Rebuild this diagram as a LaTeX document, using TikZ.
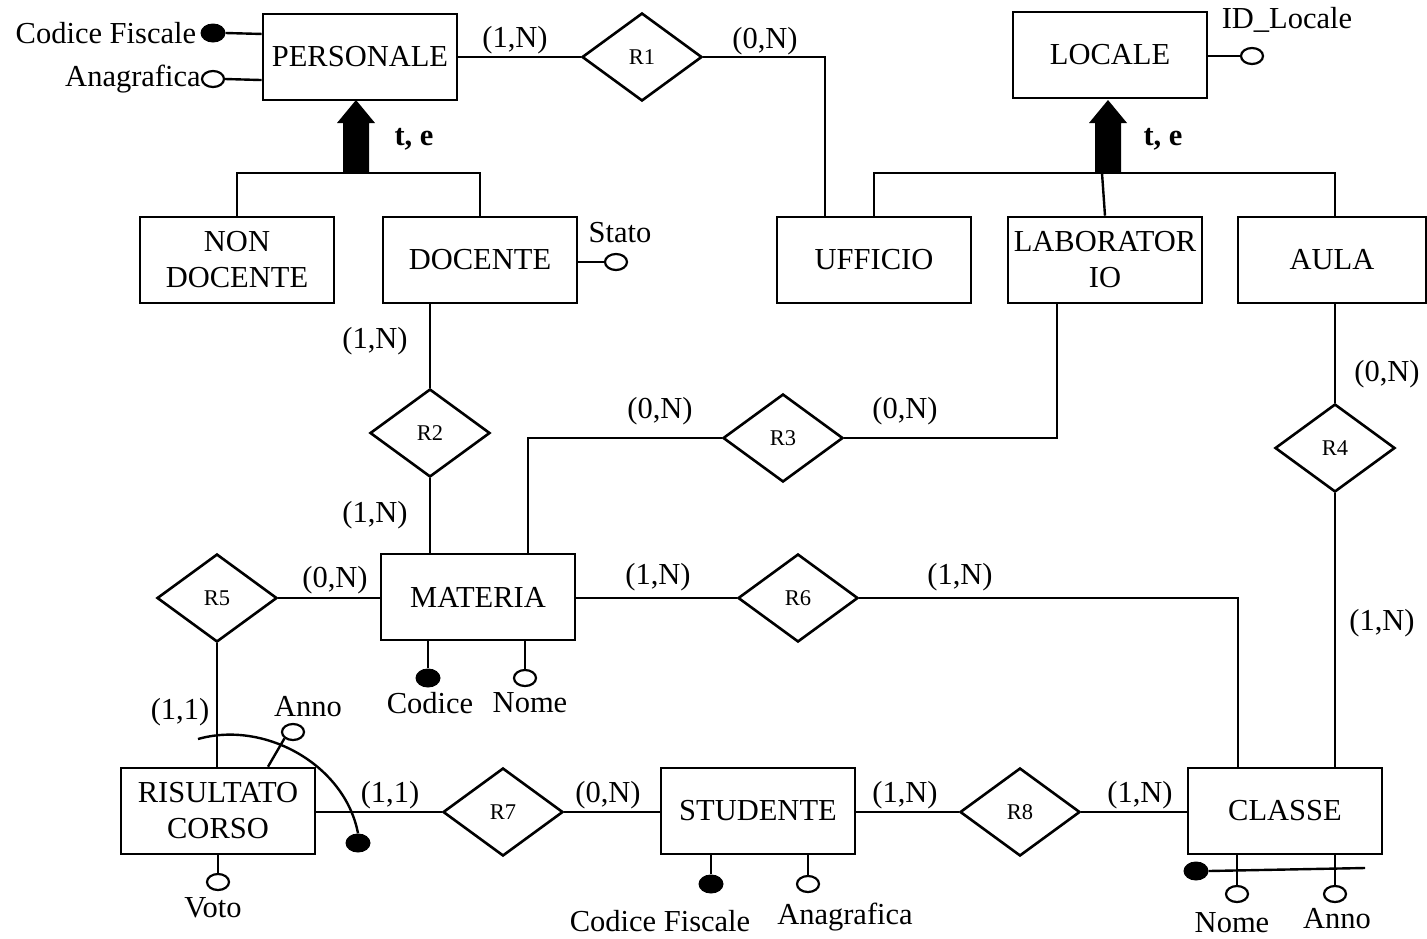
\documentclass[tikz,border=0pt]{standalone}
\usepackage{fontspec}
\setmainfont{Liberation Serif}
\usetikzlibrary{shapes.geometric,calc}
\tikzset{
  every node/.style={font=\fontsize{30.5}{36}\selectfont},
  ent/.style={draw, line width=2.6pt, rectangle, minimum width=194pt, minimum height=86pt, inner sep=0pt, align=center},
  rel/.style={draw, line width=2.6pt, diamond, minimum width=120pt, minimum height=88pt, inner sep=0pt, font=\fontsize{22.5}{24}\selectfont},
  conn/.style={line width=2.4pt},
  attro/.style={ellipse, draw, line width=2.2pt, fill=white, minimum width=22pt, minimum height=16pt, inner sep=0pt},
  attrf/.style={ellipse, fill=black, minimum width=25pt, minimum height=19pt, inner sep=0pt},
  lbl/.style={inner sep=1pt},
  card/.style={inner sep=0pt},
  gen/.style={fill=black},
}
\begin{document}
\begin{tikzpicture}[x=1pt,y=-1pt]
\useasboundingbox (0,0) rectangle (1427,938);
% entities
\node[ent] (pers) at (360,57) {PERSONALE};
\node[ent] (loc) at (1110,55) {LOCALE};
\node[ent] (nond) at (237,260) {NON\\DOCENTE};
\node[ent] (doc) at (480,260) {DOCENTE};
\node[ent] (uff) at (874,260) {UFFICIO};
\node[ent] (lab) at (1105,260) {LABORATOR\\IO};
\node[ent, minimum width=188pt] (aula) at (1332,260) {AULA};
\node[ent] (mat) at (478,597) {MATERIA};
\node[ent] (ris) at (218,811) {RISULTATO\\CORSO};
\node[ent] (stu) at (758,811) {STUDENTE};
\node[ent] (cla) at (1285,811) {CLASSE};
% relationships
\node[rel] (r1) at (642,57) {R1};
\node[rel] (r2) at (430,433) {R2};
\node[rel] (r3) at (783,438) {R3};
\node[rel] (r4) at (1335,448) {R4};
\node[rel] (r5) at (217,598) {R5};
\node[rel] (r6) at (798,598) {R6};
\node[rel] (r7) at (503,812) {R7};
\node[rel] (r8) at (1020,812) {R8};
% coordinates for bends
\coordinate (c1) at (825,57);
\coordinate (c3) at (528,438);
\coordinate (c4) at (1057,438);
\coordinate (c6) at (1238,598);
\coordinate (g1) at (356,173);
\coordinate (g2) at (1108,173);
\coordinate (c7) at (1335,173);
% connectors
\draw[conn] (pers.east |- r1) -- (r1.west);
\draw[conn] (r1.east) -- (c1) -- (c1 |- uff.north);
\draw[conn] (r2.north) -- (r2.north |- doc.south);
\draw[conn] (r2.south) -- (r2.south |- mat.north);
\draw[conn] (r3.west) -- (c3) -- (c3 |- mat.north);
\draw[conn] (r3.east) -- (c4) -- (c4 |- lab.south);
\draw[conn] (r4.north) -- (r4.north |- aula.south);
\draw[conn] (r4.south) -- (r4.south |- cla.north);
\draw[conn] (r5.east) -- (r5.east -| mat.west);
\draw[conn] (r5.south) -- (r5.south |- ris.north);
\draw[conn] (mat.east |- r6) -- (r6.west);
\draw[conn] (r6.east) -- (c6) -- (c6 |- cla.north);
\draw[conn] (ris.east |- r7) -- (r7.west);
\draw[conn] (r7.east) -- (r7.east -| stu.west);
\draw[conn] (stu.east |- r8) -- (r8.west);
\draw[conn] (r8.east) -- (r8.east -| cla.west);
% generalizations
\draw[conn] (nond.north) -- (nond.north |- g1) -- (doc.north |- g1) -- (doc.north);
\fill[gen] (g1) ++(-13,0) -- ++(0,-50) -- ++(-6,0) -- ++(19,-23) -- ++(19,23) -- ++(-6,0) -- ++(0,50) -- cycle;
\node[font=\bfseries\fontsize{30.5}{36}\selectfont] (te1) at (414,139) {t, e};
\draw[conn] (uff.north) -- (uff.north |- g2) -- (c7) -- (c7 |- aula.north);
\draw[conn] (1102,173) -- (lab.north);
\fill[gen] (g2) ++(-13,0) -- ++(0,-50) -- ++(-6,0) -- ++(19,-23) -- ++(19,23) -- ++(-6,0) -- ++(0,50) -- cycle;
\node[font=\bfseries\fontsize{30.5}{36}\selectfont] (te2) at (1163,139) {t, e};
% attributes PERSONALE
\node[attrf] (pcf) at (213,33) {};
\draw[conn] (pcf.east) -- ($(pers.north west)!0.24!(pers.south west)$);
\node[lbl, anchor=east] (tpcf) at ([xshift=-3pt]pcf.west) {Codice Fiscale};
\node[attro] (pan) at (213,79) {};
\draw[conn] (pan.east) -- ($(pers.north west)!0.76!(pers.south west)$);
\node[lbl, anchor=east] (tpan) at ([xshift=1pt]pan.west) {Anagrafica};
% LOCALE
\node[attro] (lid) at (1252,56) {};
\draw[conn] (loc.east |- lid) -- (lid.west);
\node[lbl] (tlid) at (1287,20) {ID\_Locale};
% DOCENTE
\node[attro] (dst) at (616,262) {};
\draw[conn] (doc.east |- dst) -- (dst.west);
\node[lbl] (tdst) at (620,233) {Stato};
% MATERIA
\node[attrf] (mco) at (428,678) {};
\draw[conn] (mco.north) -- (mco.north |- mat.south);
\node[lbl] (tmco) at (430,703) {Codice};
\node[attro] (mno) at (525,678) {};
\draw[conn] (mno.north) -- (mno.north |- mat.south);
\node[lbl] (tmno) at (530,703) {Nome};
% RISULTATO CORSO
\node[attro] (rvo) at (218,882) {};
\draw[conn] (rvo.north) -- (rvo.north |- ris.south);
\node[lbl] (trvo) at (213,908) {Voto};
\node[attro] (ran) at (293,732) {};
\draw[conn] (ran.south west) -- ([xshift=50pt]ris.north);
\node[lbl] (tran) at (308,707) {Anno};
\node[attrf] (rid) at (358,843) {};
\draw[conn] (198,739) .. controls (265,720) and (345,765) .. (rid.north);
% STUDENTE
\node[attrf] (scf) at (711,884) {};
\draw[conn] (scf.north) -- (scf.north |- stu.south);
\node[lbl] (tscf) at (660,921) {Codice Fiscale};
\node[attro] (san) at (808,884) {};
\draw[conn] (san.north) -- (san.north |- stu.south);
\node[lbl] (tsan) at (845,917) {Anagrafica};
% CLASSE
\node[attro] (cno) at (1237,894) {};
\draw[conn] (cno.north) -- (cno.north |- cla.south);
\node[lbl] (tcno) at (1232,923) {Nome};
\node[attro] (can) at (1335,894) {};
\draw[conn] (can.north) -- (can.north |- cla.south);
\node[lbl] (tcan) at (1337,919) {Anno};
\node[attrf] (cid) at (1196,871) {};
\coordinate (cide) at (1365,868);
\draw[conn] (cid.east) -- (cide);
% cardinalities
\node[card] (k1) at (515,40) {(1,N)};
\node[card] (k2) at (765,41) {(0,N)};
\node[card] (k3) at (375,341) {(1,N)};
\node[card] (k4) at (375,515) {(1,N)};
\node[card] (k5) at (660,411) {(0,N)};
\node[card] (k6) at (905,411) {(0,N)};
\node[card] (k7) at (1387,374) {(0,N)};
\node[card] (k8) at (1382,623) {(1,N)};
\node[card] (k9) at (335,580) {(0,N)};
\node[card] (k10) at (658,577) {(1,N)};
\node[card] (k11) at (960,577) {(1,N)};
\node[card] (k12) at (180,712) {(1,1)};
\node[card] (k13) at (390,795) {(1,1)};
\node[card] (k14) at (608,795) {(0,N)};
\node[card] (k15) at (905,795) {(1,N)};
\node[card] (k16) at (1140,795) {(1,N)};
\end{tikzpicture}
\end{document}
